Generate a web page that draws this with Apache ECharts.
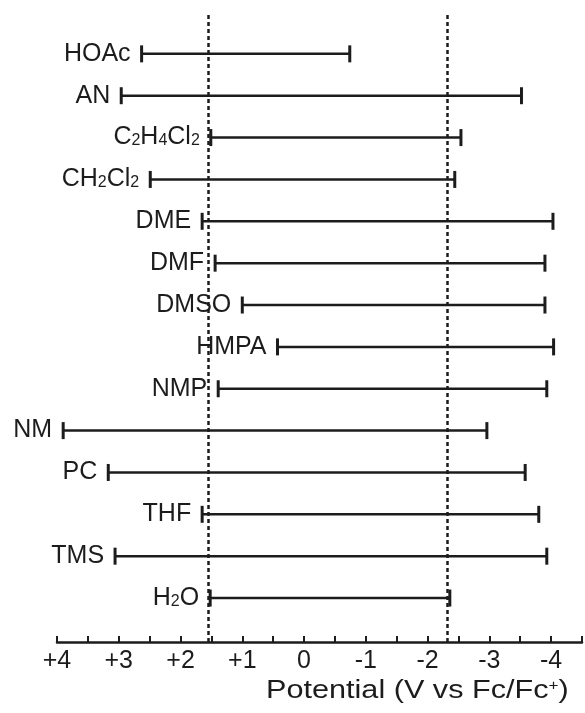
<!DOCTYPE html>
<html>
<head>
<meta charset="utf-8">
<style>
  html, body { margin: 0; padding: 0; background: #ffffff; }
  #chart { width: 585px; height: 713px; }
</style>
<script src="https://cdn.jsdelivr.net/npm/echarts@6/dist/echarts.min.js"></script>
</head>
<body>
<div id="chart"></div>
<script>
// Solvent electrochemical windows, potentials in V vs Fc/Fc+
const solvents = ['HOAc', 'AN', 'C2H4Cl2', 'CH2Cl2', 'DME', 'DMF', 'DMSO', 'HMPA', 'NMP', 'NM', 'PC', 'THF', 'TMS', 'H2O'];
// positive (anodic) limit of each window
const anodicLimit = [2.63, 2.96, 1.51, 2.49, 1.65, 1.44, 1.00, 0.43, 1.39, 3.90, 3.17, 1.65, 3.06, 1.52];
// negative (cathodic) limit of each window
const cathodicLimit = [-0.74, -3.52, -2.54, -2.44, -4.03, -3.90, -3.90, -4.04, -3.93, -2.96, -3.58, -3.80, -3.93, -2.36];
// reference potentials drawn as dotted verticals
const referenceLines = [1.55, -2.32];
const tickValues = [4, 3, 2, 1, 0, -1, -2, -3, -4];
const axisTitle = 'Potential (V vs Fc/Fc{sup|+})';

const FONT = '"Liberation Sans", Arial, Helvetica, sans-serif';
const INK = '#1c1c1c';

// digits in formulas become subscripts
function formula(name) {
  return name.replace(/(\d)/g, '{sub|$1}');
}

const rows = solvents.map((s, i) => [anodicLimit[i], cathodicLimit[i], solvents.length - i, i]);

const chart = echarts.init(document.getElementById('chart'), null, { renderer: 'canvas' });

chart.setOption({
  backgroundColor: '#ffffff',
  animation: false,
  grid: { left: 57, right: -8.5, top: 12, bottom: 71, containLabel: false },
  xAxis: {
    type: 'value',
    inverse: true,
    min: -4.5,
    max: 4,
    interval: 0.5,
    splitLine: { show: false },
    axisLine: { show: true, onZero: false, lineStyle: { color: INK, width: 2.5 } },
    axisTick: { show: true, inside: true, length: 6, lineStyle: { color: INK, width: 2 } },
    axisLabel: {
      margin: 7,
      color: INK,
      fontFamily: FONT,
      fontSize: 25,
      showMinLabel: true,
      showMaxLabel: true,
      formatter: function (v) {
        const r = Math.round(v);
        if (Math.abs(v - r) > 1e-6 || tickValues.indexOf(r) < 0) return '';
        if (r > 0) return '+' + r;
        if (r < 0) return '-' + Math.abs(r);
        return '0';
      }
    }
  },
  yAxis: { type: 'value', min: -0.05, max: 15, show: false },
  graphic: [{
    type: 'text',
    x: 266,
    y: 679,
    scaleX: 1.225,
    style: {
      text: axisTitle,
      x: 0,
      y: 0,
      fill: INK,
      font: '25px ' + FONT,
      rich: {
        sup: { fontSize: 14, verticalAlign: 'top', fontFamily: FONT, fill: INK }
      }
    }
  }],
  series: [{
    type: 'custom',
    data: rows,
    clip: false,
    renderItem: function (params, api) {
      const y = api.coord([0, api.value(2)])[1];
      const xa = api.coord([api.value(0), 0])[0];
      const xc = api.coord([api.value(1), 0])[0];
      const name = solvents[api.value(3)];
      return {
        type: 'group',
        children: [
          { type: 'line', shape: { x1: xa, y1: y, x2: xc, y2: y }, style: { stroke: INK, lineWidth: 2.5 } },
          { type: 'line', shape: { x1: xa, y1: y - 8.5, x2: xa, y2: y + 8.5 }, style: { stroke: INK, lineWidth: 3 } },
          { type: 'line', shape: { x1: xc, y1: y - 8.5, x2: xc, y2: y + 8.5 }, style: { stroke: INK, lineWidth: 3 } },
          {
            type: 'text',
            style: {
              text: formula(name),
              x: xa - 11,
              y: y,
              align: 'right',
              verticalAlign: 'middle',
              fill: INK,
              font: '25px ' + FONT,
              rich: {
                sub: { fontSize: 16, verticalAlign: 'bottom', fontFamily: FONT, fill: INK, padding: [0, 0, 1, 0] }
              }
            }
          }
        ]
      };
    },
    markLine: {
      silent: true,
      symbol: 'none',
      label: { show: false },
      lineStyle: { color: INK, width: 2.5, type: [4, 3] },
      data: referenceLines.map(v => ({ xAxis: v }))
    }
  }]
});
</script>
</body>
</html>
